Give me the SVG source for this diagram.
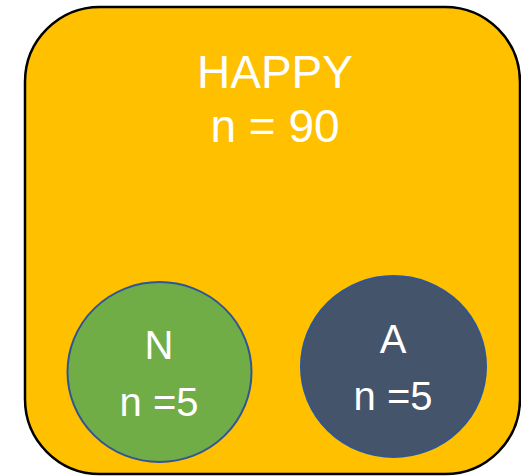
<svg xmlns="http://www.w3.org/2000/svg" width="521" height="476" viewBox="0 0 521 476">
<style>
text{font-family:"Liberation Sans",Arial,sans-serif;fill:#fff;text-anchor:middle}
.big{font-size:46px}
.mid{font-size:40px}
.c{stroke:#2F5597;stroke-width:2}
</style>
<rect width="521" height="476" fill="#fff"/>
<g id="happy">
<rect x="25" y="7" width="495" height="467" rx="75" ry="75" fill="#FFC000" stroke="#000" stroke-width="2.5"/>
<text class="big" x="275" y="88">HAPPY</text>
<text class="big" x="275" y="142">n = 90</text>
</g>
<g id="N">
<ellipse class="c" cx="159.5" cy="372" rx="92" ry="90" fill="#70AD47"/>
<text class="mid" x="159" y="359">N</text>
<text class="mid" x="159" y="416">n =5</text>
</g>
<g id="A">
<ellipse class="c" cx="393.5" cy="366.5" rx="92.5" ry="90.5" fill="#44546A" stroke-width="1.2"/>
<text class="mid" x="393" y="353">A</text>
<text class="mid" x="393" y="410">n =5</text>
</g>
<g id="connectors"/>
</svg>
